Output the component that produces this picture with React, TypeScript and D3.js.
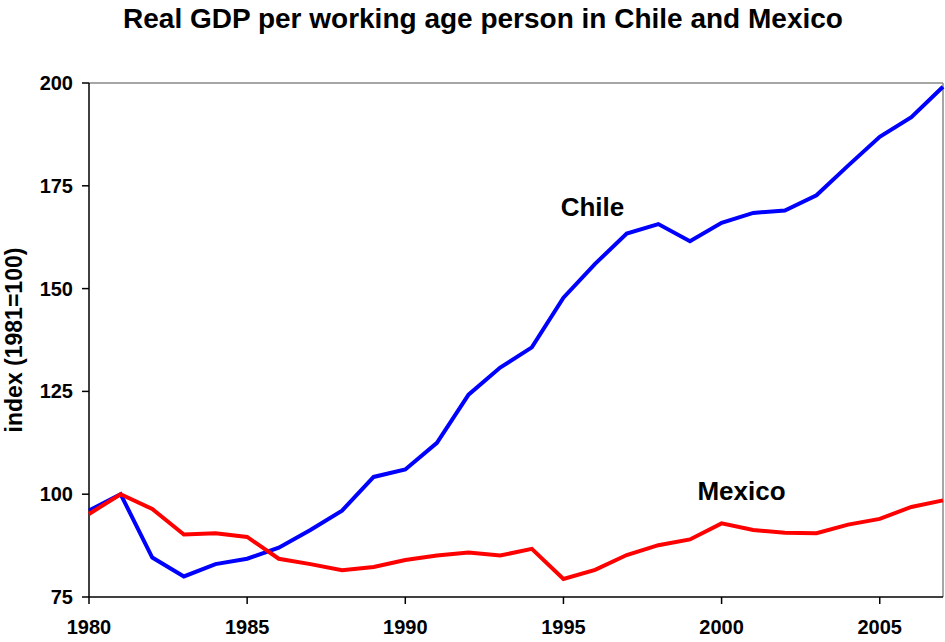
import React from "react";
import * as d3 from "d3";

const years = d3.range(1980, 2008);
const chile = [96, 100, 84.6, 80, 83, 84.3, 87, 91.3, 96, 104.2, 106, 112.5, 124.2, 130.8, 135.7, 147.8, 156, 163.4, 165.7, 161.5, 166, 168.4, 169, 172.7, 179.9, 186.9, 191.7, 199.1];
const mexico = [95.2, 100, 96.4, 90.2, 90.5, 89.6, 84.3, 83, 81.5, 82.3, 84, 85.1, 85.8, 85.1, 86.7, 79.4, 81.6, 85.2, 87.6, 89, 92.9, 91.3, 90.6, 90.5, 92.6, 94, 96.9, 98.5];
const xTicks = [1980, 1985, 1990, 1995, 2000, 2005];
const yTicks = [75, 100, 125, 150, 175, 200];

const W = 945, H = 642;
const M = { left: 89, right: 943, top: 83, bottom: 597 };
const FONT = "'Liberation Sans', Arial, sans-serif";

export default function App() {
  const x = d3.scaleLinear().domain([1980, 2007]).range([M.left, M.right]);
  const y = d3.scaleLinear().domain([75, 200]).range([M.bottom, M.top]);
  const line = d3.line<number>().x((_, i) => x(years[i])).y((d) => y(d));

  return (
    <svg width={W} height={H} style={{ position: "absolute", left: 0, top: 0, background: "#fff" }} fontFamily={FONT}>
      <text x={483} y={28} textAnchor="middle" fontSize={28} fontWeight="bold">
        Real GDP per working age person in Chile and Mexico
      </text>
      {/* frame top/right */}
      <line x1={M.left} x2={M.right} y1={M.top} y2={M.top} stroke="#888" strokeWidth={1.5} />
      <line x1={M.right} x2={M.right} y1={M.top} y2={M.bottom} stroke="#888" strokeWidth={1.5} />
      {/* axes */}
      <line x1={M.left} x2={M.left} y1={M.top} y2={M.bottom} stroke="#000" strokeWidth={1.5} />
      <line x1={M.left} x2={M.right} y1={M.bottom} y2={M.bottom} stroke="#000" strokeWidth={1.5} />
      {yTicks.map((t) => (
        <g key={t}>
          <line x1={M.left - 7} x2={M.left} y1={y(t)} y2={y(t)} stroke="#000" strokeWidth={1.5} />
          <text x={73} y={y(t)} dy="0.35em" textAnchor="end" fontSize={20} fontWeight="bold">{t}</text>
        </g>
      ))}
      {xTicks.map((t) => (
        <g key={t}>
          <line x1={x(t)} x2={x(t)} y1={M.bottom} y2={M.bottom + 7} stroke="#000" strokeWidth={1.5} />
          <text x={x(t)} y={634} textAnchor="middle" fontSize={20} fontWeight="bold">{t}</text>
        </g>
      ))}
      <text transform={`translate(22,340) rotate(-90)`} textAnchor="middle" fontSize={23} fontWeight="bold">
        index (1981=100)
      </text>
      <path d={line(chile) || ""} fill="none" stroke="#0000FF" strokeWidth={4} strokeLinejoin="miter" />
      <path d={line(mexico) || ""} fill="none" stroke="#FF0000" strokeWidth={4} strokeLinejoin="miter" />
      <text x={592.5} y={216} textAnchor="middle" fontSize={26} fontWeight="bold">Chile</text>
      <text x={741.5} y={500} textAnchor="middle" fontSize={26} fontWeight="bold">Mexico</text>
    </svg>
  );
}
